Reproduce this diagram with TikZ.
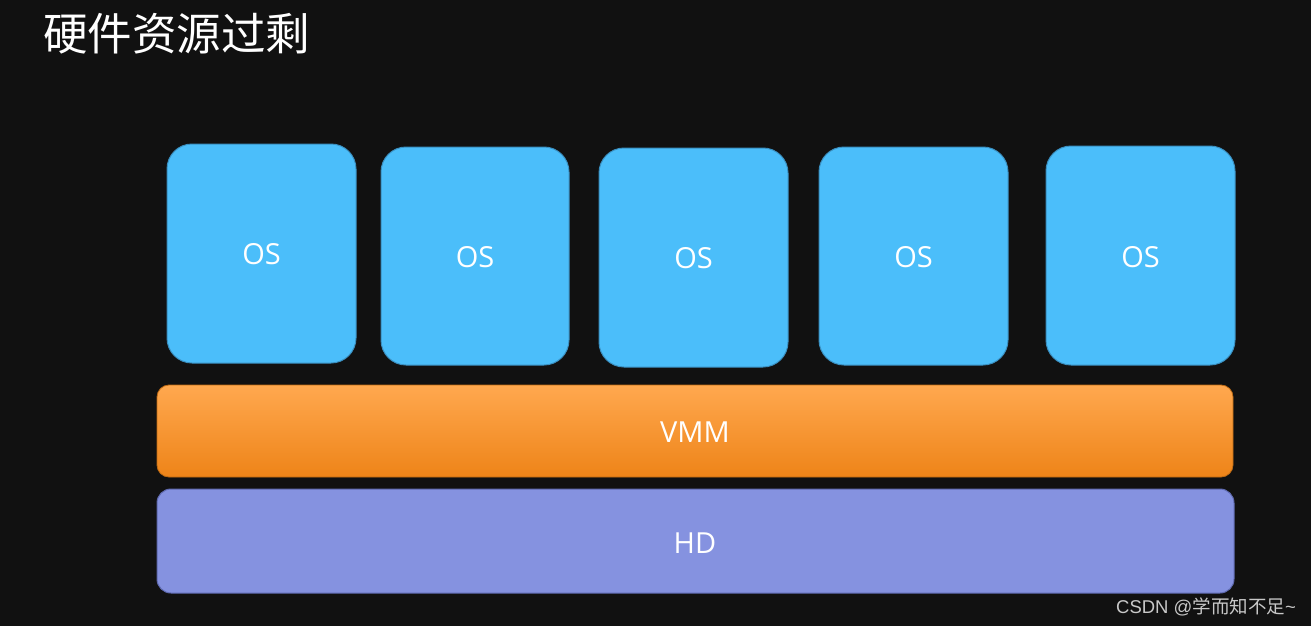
\documentclass[tikz,border=0pt]{standalone}
\usepackage{fontspec}
\setmainfont{Open Sans}
\newfontfamily\cjk{Noto Sans CJK SC}
\newfontfamily\wmfont{Liberation Sans}
\definecolor{bg}{HTML}{111111}
\definecolor{osfill}{HTML}{4BBEFA}
\definecolor{osline}{HTML}{3A8FC0}
\definecolor{vmmtop}{HTML}{FFA84F}
\definecolor{vmmbot}{HTML}{EE8418}
\definecolor{hdfill}{HTML}{8592E0}
\definecolor{hdline}{HTML}{5F6AB0}
\definecolor{wm}{HTML}{C8C8C8}
\tikzset{
  osbox/.style={draw=osline, line width=1pt, fill=osfill, rounded corners=25pt},
  vmmbox/.style={draw=vmmbot!80!black, line width=0.8pt, top color=vmmtop, bottom color=vmmbot, rounded corners=12pt},
  hdbox/.style={draw=hdline, line width=1pt, fill=hdfill, rounded corners=14pt},
  lbl/.style={text=white, font=\fontsize{29}{34}\selectfont, inner sep=0pt}
}
\begin{document}
\begin{tikzpicture}[x=1pt,y=-1pt]
\fill[bg] (0,0) rectangle (1311,626);
\useasboundingbox (0,0) rectangle (1311,626);
\node[anchor=west, text=white, inner sep=0pt, font=\cjk\fontsize{44.5}{50}\selectfont] (title) at (43,34) {硬件资源过剩};
\draw[osbox] (167,144) rectangle (356,363);
\node[lbl] (os1) at (261.5,254) {OS};
\draw[osbox] (381,147) rectangle (569,365);
\node[lbl] (os2) at (475,257) {OS};
\draw[osbox] (599,148) rectangle (788,367);
\node[lbl] (os3) at (693.5,258) {OS};
\draw[osbox] (819,147) rectangle (1008,365);
\node[lbl] (os4) at (913.5,257) {OS};
\draw[osbox] (1046,146) rectangle (1235,365);
\node[lbl] (os5) at (1140.5,257) {OS};
\draw[vmmbox] (157,385) rectangle (1233,477);
\node[lbl] (vmm) at (695,432) {VMM};
\draw[hdbox] (157,489) rectangle (1234,593);
\node[lbl] (hd) at (695,543) {HD};
\node[anchor=east, text=wm, inner sep=0pt, font=\wmfont\fontsize{18.5}{20}\selectfont] (wm) at (1296,607) {CSDN @{\cjk 学而知不足}\char"7E};
\end{tikzpicture}
\end{document}
